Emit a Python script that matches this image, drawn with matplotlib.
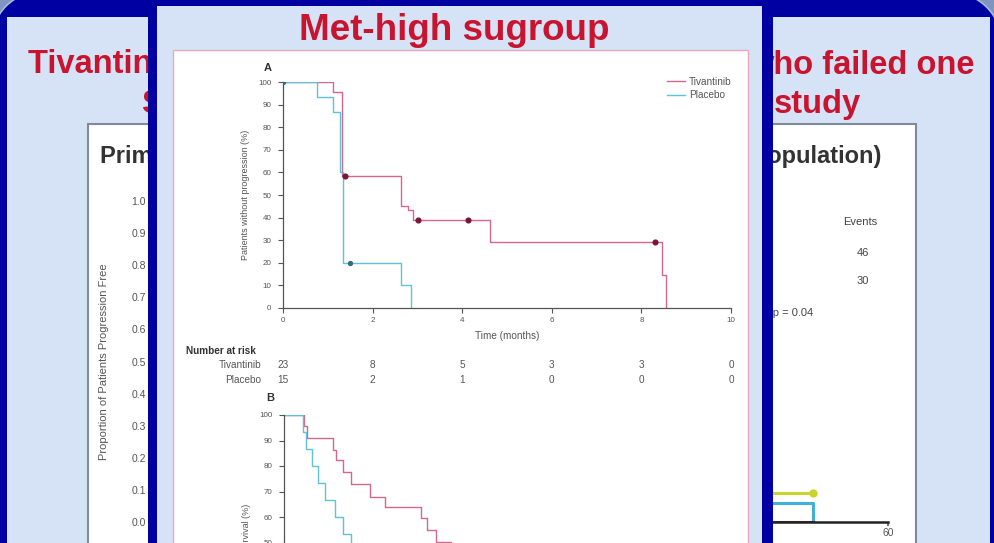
import matplotlib
matplotlib.use("Agg")
import matplotlib.pyplot as plt
from matplotlib.patches import Rectangle, Circle, Arc
from matplotlib.lines import Line2D
from matplotlib import transforms

plt.rcParams["font.family"] = ["Liberation Sans", "DejaVu Sans"]

W, H = 994, 543

# ------------------------------------------------------------------
# Met-high subgroup, panel A: time to progression (%)
# ------------------------------------------------------------------
tiv_a_t = [0, 1.11, 1.31, 2.63, 2.80, 2.91, 4.63, 8.46, 8.54]
tiv_a_s = [100, 95.7, 58.3, 45.3, 43.4, 38.9, 29.2, 14.6, 0]
tiv_a_cens_t = [1.39, 3.01, 4.12, 8.30]
tiv_a_cens_s = [58.3, 38.9, 38.9, 29.2]

pla_a_t = [0, 0.76, 1.12, 1.27, 1.34, 2.63, 2.85]
pla_a_s = [100, 93.3, 86.7, 60.0, 20.0, 10.0, 0]
pla_a_cens_t = [0, 1.50]
pla_a_cens_s = [100, 20.0]

risk_times = [0, 2, 4, 6, 8, 10]
risk_tiv = [23, 8, 5, 3, 3, 0]
risk_pla = [15, 2, 1, 0, 0, 0]

# panel B: overall survival (%)
tiv_b_t = [0, 0.90, 1.01, 2.18, 2.33, 2.63, 2.98, 3.85, 4.52, 6.15, 6.38, 6.78, 7.47]
tiv_b_s = [100, 95.7, 91.1, 86.3, 82.4, 77.8, 72.9, 68.0, 63.8, 59.5, 54.9, 50.3, 45.9]
pla_b_t = [0, 0.84, 0.98, 1.24, 1.54, 1.83, 2.28, 2.63, 2.98]
pla_b_s = [100, 93.3, 86.7, 80.0, 73.3, 66.7, 60.0, 53.3, 46.7]

# ------------------------------------------------------------------
# underlying slide: ITT progression-free curves (tail only)
# ------------------------------------------------------------------
itt_tiv_t = [48, 53.9]
itt_tiv_s = [0.09, 0.09]
itt_pla_t = [48, 53.9]
itt_pla_s = [0.06, 0.0]
itt_low_t = [48, 53.9]
itt_low_s = [0.0, 0.0]
itt_yticks = [0.0, 0.1, 0.2, 0.3, 0.4, 0.5, 0.6, 0.7, 0.8, 0.9, 1.0]
itt_events = ["46", "30"]

RED = "#C8142E"
PINK = "#D4678A"
CYAN = "#5EC2DA"
DOT = "#7A1538"
GREY = "#555555"
NAVY = "#0000A2"
PALE = "#D6E3F6"

FS = 7.2      # panel text
FS_TICK = 5.8

fig = plt.figure(figsize=(W / 100, H / 100), dpi=100)
fig.patch.set_facecolor("#7E95C0")

# pixel coordinates, y pointing down
PX = transforms.Affine2D().scale(1 / W, -1 / H).translate(0, 1) + fig.transFigure


def box(x0, y0, x1, y1, z, **kw):
    p = Rectangle((x0, y0), x1 - x0, y1 - y0, transform=PX, zorder=z, **kw)
    fig.add_artist(p)
    return p


def corner(cx, cy, r, t1, t2):
    fig.add_artist(Circle((cx, cy), r, transform=PX, zorder=0.05,
                          facecolor=NAVY, edgecolor="none"))
    fig.add_artist(Arc((cx, cy), 2 * r, 2 * r, theta1=t1, theta2=t2,
                       transform=PX, zorder=0.06, color="#A9BAD8", lw=1.2))


def axes_px(x0, x1, ytop, ybot, z):
    a = fig.add_axes([x0 / W, 1 - ybot / H, (x1 - x0) / W, (ybot - ytop) / H],
                     zorder=z)
    a.patch.set_alpha(0)
    return a


# navy slide frame with rounded top corners
box(-10, 42, W + 10, 600, 0.05, facecolor=NAVY, edgecolor="none")
box(40, -10, W - 44, 600, 0.05, facecolor=NAVY, edgecolor="none")
corner(40, 40, 48, 180, 270)
corner(W - 44, 44, 52, 270, 360)
box(7, 17, 990, 560, 0.1, facecolor=PALE, edgecolor="none")

# slide title
fig.text(28, 65, "Tivantinib in HCC patients", transform=PX, color=RED,
         fontsize=23.5, fontweight="bold", ha="left", va="center", zorder=2)
fig.text(975, 65, "who failed one", transform=PX, color=RED,
         fontsize=23.5, fontweight="bold", ha="right", va="center", zorder=2)
fig.text(142, 104, "Systemic therapy: randomized phase II", transform=PX,
         color=RED, fontsize=23.5, fontweight="bold", ha="left", va="center",
         zorder=2)
fig.text(861, 104, "study", transform=PX, color=RED, fontsize=23.5,
         fontweight="bold", ha="right", va="center", zorder=2)

# ITT chart box
box(88, 124, 916, 570, 0.3, facecolor="white", edgecolor="#7F8B9A", lw=1.5)
fig.text(100, 157, "Primary endpoint: TTP", transform=PX, color="#333333",
         fontsize=17, fontweight="bold", ha="left", va="center", zorder=2)
fig.text(881, 157, "(ITT population)", transform=PX, color="#333333",
         fontsize=17, fontweight="bold", ha="right", va="center", zorder=2)
fig.text(860, 222, "Events", transform=PX, color="#444444", fontsize=8,
         ha="center", va="center", zorder=2)
for k, ev in enumerate(itt_events):
    fig.text(863, 253 + 28 * k, ev, transform=PX, color="#444444",
             fontsize=8, ha="center", va="center", zorder=2)
fig.text(813, 313, "HR 0.64, p = 0.04", transform=PX, color="#444444",
         fontsize=8, ha="right", va="center", zorder=2)

ax_bg = axes_px(152, 888, 201, 522, 1)
ax_bg.step(itt_tiv_t, itt_tiv_s, where="post", color="#C9D52C", lw=2.2)
ax_bg.plot(itt_tiv_t[-1], itt_tiv_s[-1], "o", color="#C9D52C", ms=5)
ax_bg.step(itt_pla_t, itt_pla_s, where="post", color="#3FB0D6", lw=2.2)
ax_bg.step(itt_low_t, itt_low_s, where="post", color="#8B2030", lw=2.2)
ax_bg.set_xlim(0, 60)
ax_bg.set_ylim(0, 1)
ax_bg.set_xticks([60])
ax_bg.set_xticklabels(["60"])
ax_bg.set_yticks(itt_yticks)
ax_bg.set_yticklabels([f"{v:.1f}" for v in itt_yticks])
ax_bg.tick_params(labelsize=7.5, colors="#555555", length=3, width=1.2, pad=1.5)
ax_bg.set_ylabel("Proportion of Patients Progression Free", fontsize=8,
                 color="#555555", labelpad=16)
for s in ("top", "right"):
    ax_bg.spines[s].set_visible(False)
ax_bg.spines["bottom"].set_linewidth(1.8)
ax_bg.spines["bottom"].set_color("#222222")
ax_bg.spines["left"].set_color("#555555")

# ------------------------------------------------------------------
# overlay: Met-high subgroup
# ------------------------------------------------------------------
box(148, -2, 773, 560, 5, facecolor=NAVY, edgecolor="none")
box(157, 6, 762, 560, 5.1, facecolor=PALE, edgecolor="none")
box(173, 50, 748, 560, 5.2, facecolor="white", edgecolor="#E6A9BC", lw=1)
fig.text(454, 30, "Met-high sugroup", transform=PX, color=RED, fontsize=26.5,
         fontweight="bold", ha="center", va="center", zorder=7)


def km_style(a):
    for s in ("top", "right"):
        a.spines[s].set_visible(False)
    for s in ("left", "bottom"):
        a.spines[s].set_color(GREY)
        a.spines[s].set_linewidth(0.9)
    a.tick_params(labelsize=FS_TICK, colors=GREY, length=3.5, width=0.8, pad=5)


# panel A
ax_a = axes_px(283, 731, 82, 308, 6)
ax_a.step(tiv_a_t, tiv_a_s, where="post", color=PINK, lw=1.0)
ax_a.step(pla_a_t, pla_a_s, where="post", color=CYAN, lw=1.0)
ax_a.plot(tiv_a_cens_t, tiv_a_cens_s, "o", color=DOT, ms=3.4, zorder=4)
ax_a.plot(pla_a_cens_t, pla_a_cens_s, "o", color="#2E6D7A", ms=2.8, zorder=4)
ax_a.set_xlim(0, 10)
ax_a.set_ylim(0, 100)
ax_a.set_xticks(risk_times)
ax_a.set_yticks(range(0, 101, 10))
km_style(ax_a)
ax_a.tick_params(axis="x", pad=3)
ax_a.set_ylabel("Patients without progression (%)", fontsize=FS - 0.7,
                color=GREY, labelpad=6)
ax_a.set_xlabel("Time (months)", fontsize=FS, color=GREY, labelpad=5)
ax_a.text(-0.035, 1.06, "A", transform=ax_a.transAxes, fontsize=8,
          color="#333333", fontweight="bold", ha="center", va="center")
handles = [Line2D([], [], color=PINK, lw=1.0), Line2D([], [], color=CYAN, lw=1.0)]
ax_a.legend(handles, ["Tivantinib", "Placebo"], loc="upper right",
            bbox_to_anchor=(1.012, 1.045), frameon=False, fontsize=FS,
            handlelength=1.8, handletextpad=0.4, labelspacing=0.35,
            borderpad=0, labelcolor=GREY)

# number at risk
rx = transforms.blended_transform_factory(ax_a.transData, PX)
fig.text(186, 351, "Number at risk", transform=PX, fontsize=FS,
         color="#333333", fontweight="bold", ha="left", va="center", zorder=7)
fig.text(261, 365, "Tivantinib", transform=PX, fontsize=FS, color=GREY,
         ha="right", va="center", zorder=7)
fig.text(261, 380, "Placebo", transform=PX, fontsize=FS, color=GREY,
         ha="right", va="center", zorder=7)
for t, n1, n2 in zip(risk_times, risk_tiv, risk_pla):
    ax_a.text(t, 365, str(n1), transform=rx, fontsize=FS, color=GREY,
              ha="center", va="center", clip_on=False)
    ax_a.text(t, 380, str(n2), transform=rx, fontsize=FS, color=GREY,
              ha="center", va="center", clip_on=False)

# panel B
ax_b = axes_px(284, 731, 415, 670, 6)
ax_b.step(tiv_b_t, tiv_b_s, where="post", color=PINK, lw=1.0)
ax_b.step(pla_b_t, pla_b_s, where="post", color=CYAN, lw=1.0)
ax_b.set_xlim(0, 20)
ax_b.set_ylim(0, 100)
ax_b.set_yticks(range(0, 101, 10))
km_style(ax_b)
ax_b.set_ylabel("Overall survival (%)", fontsize=FS - 0.7, color=GREY,
                labelpad=6)
ax_b.text(-0.030, 1.065, "B", transform=ax_b.transAxes, fontsize=8,
          color="#333333", fontweight="bold", ha="center", va="center")

fig.savefig("out.png", dpi=100, facecolor=fig.get_facecolor())
